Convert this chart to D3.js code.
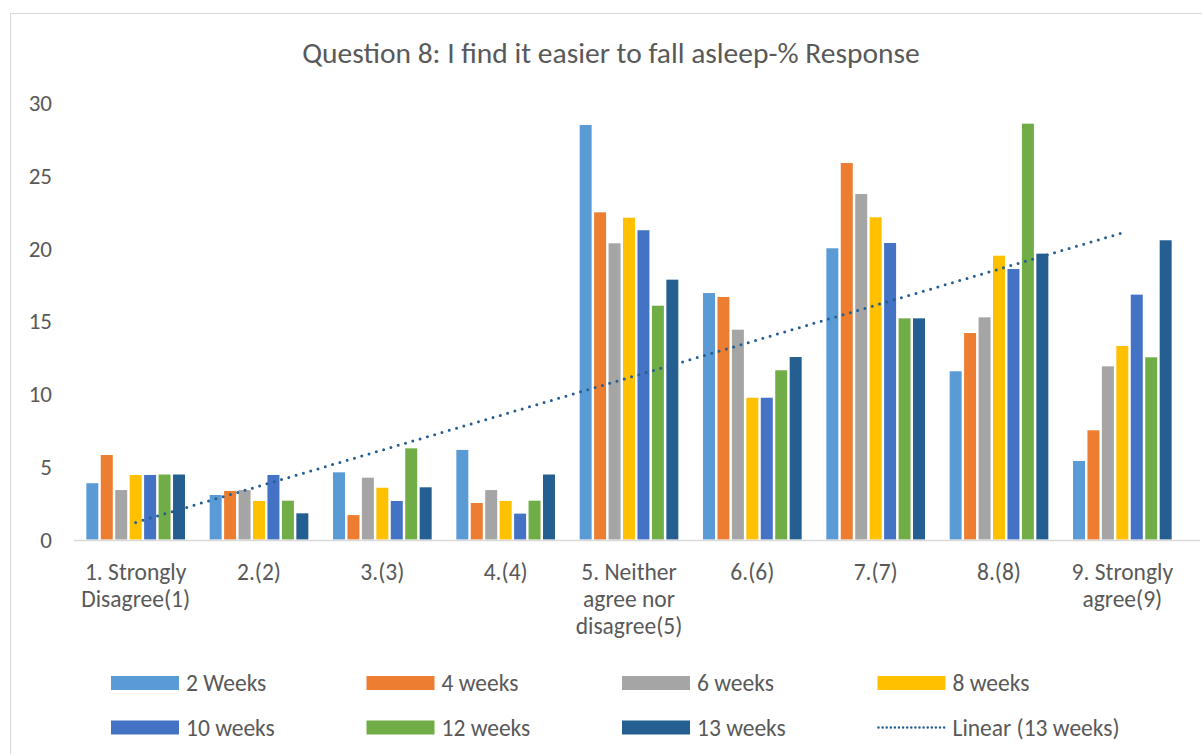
<!DOCTYPE html>
<html><head><meta charset="utf-8">
<script src="https://cdn.jsdelivr.net/npm/d3@7"></script>
<style>body{margin:0;background:#fff}svg{display:block}text{font-family:Carlito,Lato,"Noto Sans",sans-serif;fill:#595959}</style>
</head><body><svg id="c" width="1202" height="754"></svg>
<script>
const categories = [["1. Strongly","Disagree(1)"],["2.(2)"],["3.(3)"],["4.(4)"],["5. Neither","agree nor","disagree(5)"],["6.(6)"],["7.(7)"],["8.(8)"],["9. Strongly","agree(9)"]];
const seriesNames = ["2 Weeks","4 weeks","6 weeks","8 weeks","10 weeks","12 weeks","13 weeks"];
const seriesColors = ["#5B9BD5","#ED7D31","#A5A5A5","#FFC000","#4472C4","#70AD47","#255E91"];
const w2  = [3.87,3.06,4.62,6.16,28.51,16.95,20.03,11.57,5.40];
const w4  = [5.81,3.34,1.68,2.51,22.50,16.68,25.89,14.20,7.51];
const w6  = [3.40,3.40,4.25,3.40,20.37,14.43,23.76,15.28,11.91];
const w8  = [4.44,2.65,3.56,2.65,22.13,9.75,22.16,19.52,13.31];
const w10 = [4.44,4.44,2.65,1.78,21.27,9.75,20.39,18.60,16.84];
const w12 = [4.47,2.67,6.27,2.67,16.08,11.64,15.21,28.60,12.53];
const w13 = [4.47,1.80,3.59,4.47,17.87,12.55,15.21,19.66,20.58];
const yTicks = [0,5,10,15,20,25,30];
const title = "Question 8: I find it easier to fall asleep-% Response";
const trendName = "Linear (13 weeks)";

const series = [w2,w4,w6,w8,w10,w12,w13];
const svg = d3.select("#c");
svg.append("rect").attr("x",10.5).attr("y",13.5).attr("width",1200).attr("height",760)
  .attr("fill","#fff").attr("stroke","#d9d9d9");

svg.append("text").attr("x",611).attr("y",63).attr("text-anchor","middle")
  .style("font-size","29.5px").text(title);

const x0 = d3.scaleBand().domain(d3.range(categories.length)).range([74,1184]).paddingInner(0.2).paddingOuter(0.1);
const x1 = d3.scaleBand().domain(d3.range(series.length)).range([0,x0.bandwidth()]).paddingInner(0.17);
const y = d3.scaleLinear().domain([0,30]).range([539.5,103.3]);

// y labels
svg.append("g").selectAll("text").data(yTicks).join("text")
  .attr("x",52).attr("y",d=>y(d)).attr("dy","0.35em").attr("text-anchor","end")
  .style("font-size","23px").text(d=>d);

// bars
const g = svg.append("g");
series.forEach((s,si)=>{
  g.selectAll(null).data(s).join("rect")
    .attr("x",(d,i)=>x0(i)+x1(si)).attr("width",x1.bandwidth())
    .attr("y",d=>y(d)).attr("height",d=>y(0)-y(d))
    .attr("fill",seriesColors[si]);
});

// axis line
svg.append("line").attr("x1",74).attr("x2",1200).attr("y1",540.5).attr("y2",540.5)
  .attr("stroke","#d9d9d9").attr("stroke-width",1.5);

// x labels
const xl = svg.append("g");
categories.forEach((lines,i)=>{
  const t = xl.append("text").attr("text-anchor","middle").style("font-size","23.5px");
  lines.forEach((ln,j)=>t.append("tspan").attr("x",x0(i)+x0.bandwidth()/2).attr("y",580+j*27).text(ln));
});

// linear trendline of 13 weeks
const xs = d3.range(1,10);
const mx = d3.mean(xs), my = d3.mean(w13);
const slope = d3.sum(xs,(xv,i)=>(xv-mx)*(w13[i]-my))/d3.sum(xs,xv=>(xv-mx)**2);
const icpt = my - slope*mx;
const xc = i => x0(i)+x0.bandwidth()/2;
svg.append("line")
  .attr("x1",xc(0)).attr("y1",y(icpt+slope*1))
  .attr("x2",xc(8)).attr("y2",y(icpt+slope*9))
  .attr("stroke","#255E91").attr("stroke-width",3).attr("stroke-linecap","round")
  .attr("stroke-dasharray","0 7.6");

// legend
const legItems = seriesNames.map((n,i)=>({name:n,color:seriesColors[i],type:"bar"})).concat([{name:trendName,color:"#255E91",type:"line"}]);
const lg = svg.append("g");
legItems.forEach((d,i)=>{
  const col = i%4, row = Math.floor(i/4);
  const lx = 111 + col*255.5, ly = 683 + row*44.5;
  if(d.type==="bar"){
    lg.append("rect").attr("x",lx).attr("y",ly-7).attr("width",68).attr("height",14).attr("fill",d.color);
  } else {
    lg.append("line").attr("x1",lx+1).attr("x2",lx+67).attr("y1",ly).attr("y2",ly)
      .attr("stroke",d.color).attr("stroke-width",2.5).attr("stroke-linecap","round").attr("stroke-dasharray","0 4.1");
  }
  lg.append("text").attr("x",lx+75).attr("y",ly).attr("dy","0.35em").style("font-size","23.5px").text(d.name);
});
</script></body></html>
